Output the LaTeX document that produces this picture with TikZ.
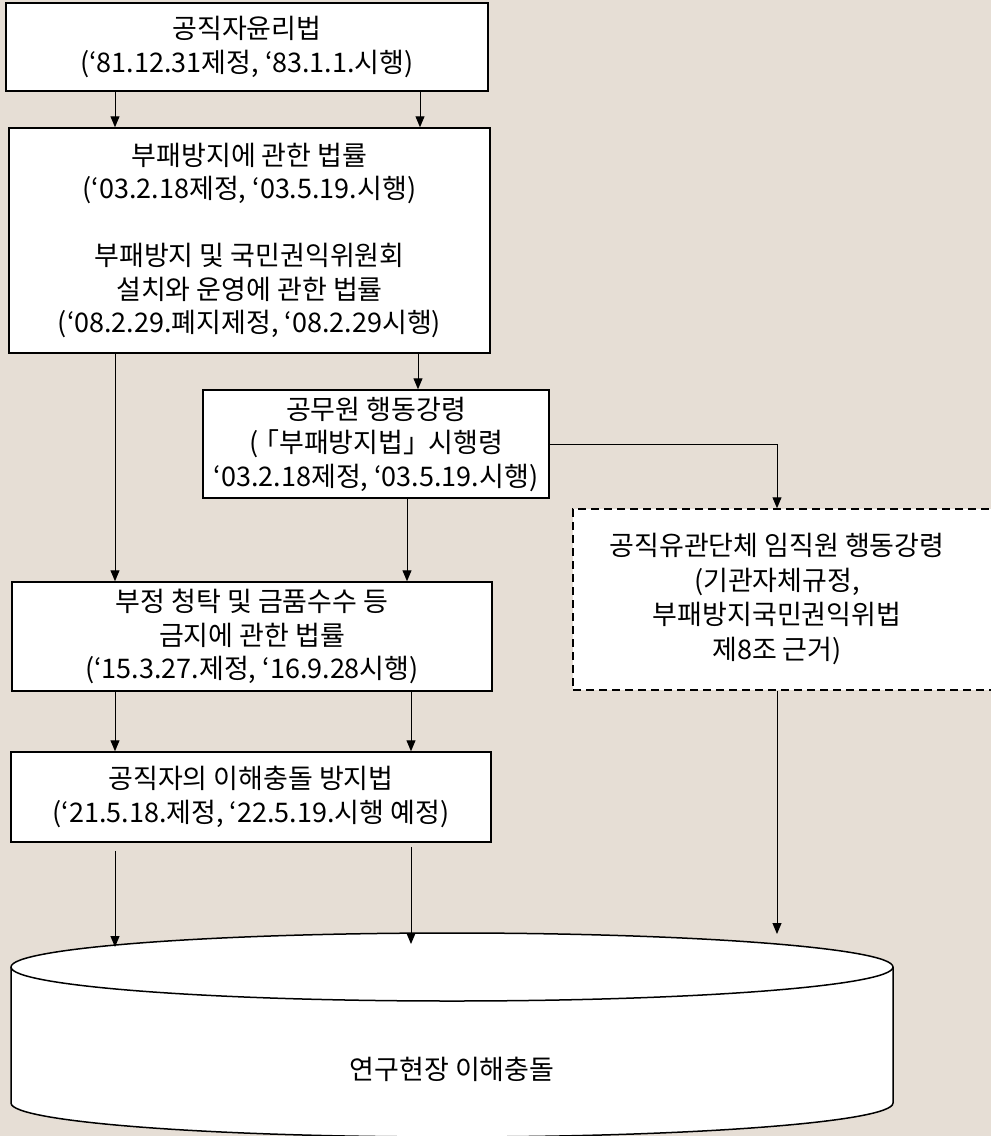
\documentclass[tikz,border=0pt]{standalone}
\usepackage{fontspec}
\setmainfont{Noto Sans CJK KR}
\usetikzlibrary{arrows.meta}
\definecolor{bgc}{RGB}{230,222,213}
\tikzset{
  lawbox/.style={draw=black, line width=1.5pt, fill=white, inner sep=0pt, align=center,
    font=\fontsize{27}{33.5}\selectfont},
  dashbox/.style={draw=black, line width=1.5pt, fill=white, inner sep=0pt,
    dash pattern=on 8pt off 5pt},
  plaintext/.style={inner sep=0pt, align=center, font=\fontsize{27}{34.5}\selectfont},
  arr/.style={draw=black, line width=1pt, -{Triangle[length=11pt,width=9pt]}},
  link/.style={draw=black, line width=1pt},
  cyl/.style={draw=black, line width=1.5pt, fill=white}
}
\begin{document}
\begin{tikzpicture}[x=1pt,y=-1pt]
\fill[bgc] (0,0) rectangle (991,1136);
\useasboundingbox (0,0) rectangle (991,1136);

% column coordinates
\coordinate (c115) at (115,0);
\coordinate (c420) at (420,0);
\coordinate (c418) at (418,0);
\coordinate (c407) at (407,0);
\coordinate (c411) at (411,0);

% boxes
\node[lawbox, minimum width=482pt, minimum height=88pt] (b1) at (247,47)
  {공직자윤리법\\(‘81.12.31제정, ‘83.1.1.시행)};
\node[lawbox, minimum width=481pt, minimum height=225pt] (b2) at (249.5,240.5)
  {부패방지에 관한 법률\\(‘03.2.18제정, ‘03.5.19.시행)\\~\\부패방지 및 국민권익위원회\\설치와 운영에 관한 법률\\(‘08.2.29.폐지제정, ‘08.2.29시행)};
\node[lawbox, minimum width=346pt, minimum height=108pt] (b3) at (376,444)
  {공무원 행동강령\\(\kern-6pt「부패방지법」\kern-8pt\ 시행령\\‘03.2.18제정, ‘03.5.19.시행)};
\node[dashbox, minimum width=423pt, minimum height=181pt] (dbox) at (784.5,599.5) {};
\node[plaintext] (dtxt) at (777,599)
  {공직유관단체 임직원 행동강령\\(기관자체규정,\\부패방지국민권익위법\\제8조 근거)};
\node[lawbox, minimum width=480pt, minimum height=109pt] (b5) at (252,636.5)
  {부정 청탁 및 금품수수 등\\금지에 관한 법률\\(‘15.3.27.제정, ‘16.9.28시행)};
\node[lawbox, minimum width=480pt, minimum height=90pt] (b6) at (251,797)
  {공직자의 이해충돌 방지법\\(‘21.5.18.제정, ‘22.5.19.시행 예정)};

% cylinder
\path[cyl] (11,967) -- (11,1103)
  arc[start angle=180, end angle=360, x radius=441pt, y radius=34pt]
  -- (893,967)
  arc[start angle=0, end angle=180, x radius=441pt, y radius=34pt] -- cycle;
\draw[line width=1.5pt] (11,967) arc[start angle=180, end angle=360, x radius=441pt, y radius=34pt];
\node[plaintext] (cyltxt) at (452,1069) {연구현장 이해충돌};
\coordinate (cylL) at (115,947);
\coordinate (cylM) at (411,944);
\coordinate (cylR) at (777,934);

% connectors
\draw[arr] (b1.south -| c115) -- (b2.north -| c115);
\draw[arr] (b1.south -| c420) -- (b2.north -| c420);
\draw[arr] (b2.south -| c115) -- (b5.north -| c115);
\draw[arr] (b2.south -| c418) -- (b3.north -| c418);
\draw[arr] (b3.south -| c407) -- (b5.north -| c407);
\draw[arr] (b3.east) -| (dtxt |- dbox.north);
\draw[arr] (b5.south -| c115) -- (b6.north -| c115);
\draw[arr] (b5.south -| c411) -- (b6.north -| c411);
\draw[arr, shorten <=8pt] (b6.south -| c115) -- (cylL);
\draw[arr, shorten <=4pt] (b6.south -| c411) -- (cylM);
\draw[arr] (dtxt |- dbox.south) -- (cylR);
\end{tikzpicture}
\end{document}
